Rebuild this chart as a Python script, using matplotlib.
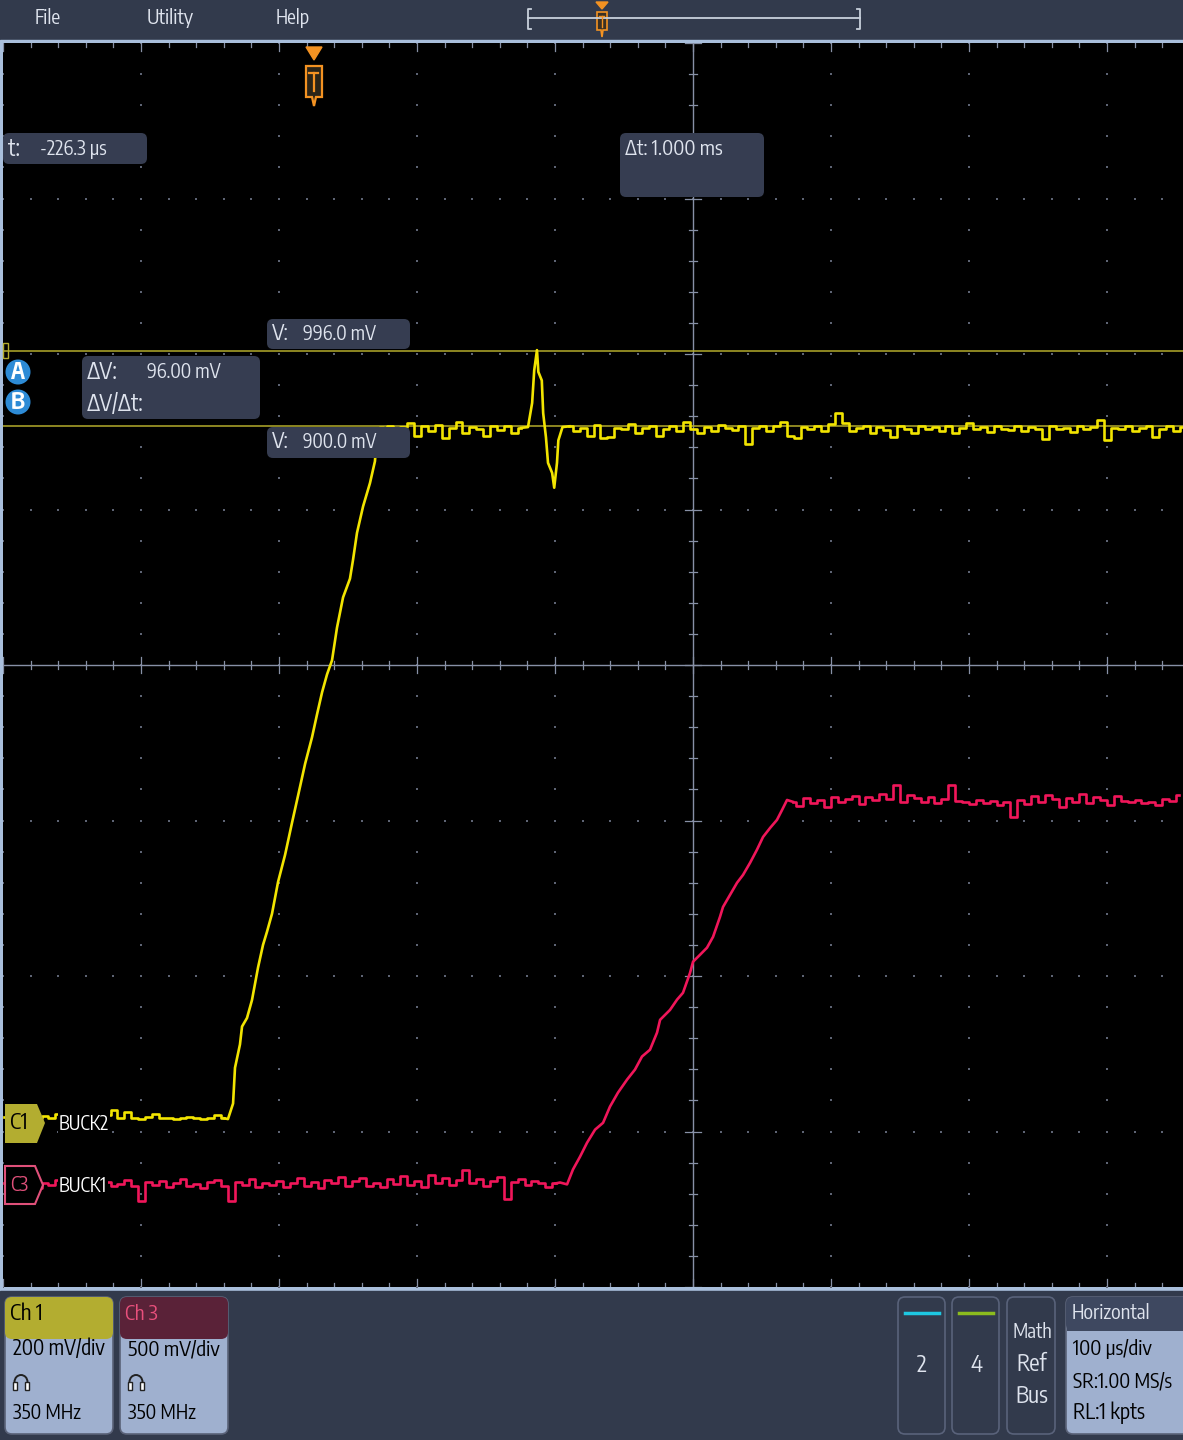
import numpy as np
import matplotlib.pyplot as plt
from matplotlib.patches import FancyBboxPatch, Polygon, Circle, Rectangle, Arc
from matplotlib import font_manager as fm

# ---------------- data (read from the scope screen) ----------------
# time in us relative to trigger, voltages in mV
ch1_scale, ch1_pos = 200.0, -2.96     # mV/div, position in div
ch3_scale, ch3_pos = 500.0, -3.34

ch1_base_t = np.arange(-225, -64, 5)
ch1_base_mv = [11, 12, 10, 13, 11, 9, 12, 10, 14, 11, 10, 12, 9, 11, 10, 13, 20, 9, 17, 10,
               8, 11, 15, 9, 10, 8, 9, 11, 9, 8, 10, 13, 9]
ch1_rise_t = [-62.4, -58.7, -57.3, -53.7, -52.2, -48.6, -45.0, -40.6, -37.0, -34.1, -30.5, -26.1,
              -21.0, -16.0, -11.6, -6.5, -1.5, 2.2, 5.8, 9.4, 13.0, 16.6, 21.0, 26.0, 28.2, 31.1,
              35.5, 40.5, 44.1, 45.6, 47.8]
ch1_rise_mv = [8, 28, 74, 104, 127, 138, 161, 203, 232, 249, 272, 313, 348, 389, 424, 465, 499,
               529, 557, 580, 598, 640, 679, 703, 727, 762, 796, 826, 854, 889, 897]
ch1_flat_a_t = np.arange(50, 151, 5)
ch1_flat_a_mv = [897, 899, 895, 898, 903, 886, 899, 893, 901, 884, 897, 905, 890, 898, 896, 887,
                 900, 894, 899, 891, 897]
ch1_spike_t = [155, 158, 159.5, 161.5, 162.5, 165, 166, 168, 169.5, 172.5, 174, 176, 177, 180]
ch1_spike_mv = [898, 929, 971, 997, 969, 958, 916, 885, 852, 839, 820, 852, 881, 898]
ch1_flat_b_t = np.arange(185, 631, 5)
ch1_flat_b_mv = [899, 893, 897, 886, 901, 884, 885, 897, 895, 902,
                 890, 897, 899, 886, 895, 900, 893, 904, 896, 891,
                 898, 893, 901, 897, 894, 899, 876, 897, 900, 893,
                 899, 905, 886, 884, 898, 896, 899, 893, 902, 916,
                 903, 893, 897, 899, 891, 898, 894, 885, 899, 896,
                 891, 900, 895, 898, 893, 899, 890, 897, 903, 895,
                 898, 892, 899, 896, 894, 900, 893, 898, 896, 883,
                 899, 895, 897, 892, 900, 896, 898, 907, 882, 897,
                 895, 899, 893, 897, 900, 885, 896, 899, 893, 898]

ch3_base_t = np.arange(-225, 176, 5)
ch3_base_mv = [4, -6, 10, -3, 8, -12, 5, -2, 14, -8,
               3, -10, 6, 12, -4, 9, -6, 2, 15, -5,
               -52, 8, -3, 12, -9, 4, 16, -6, 2, -11,
               7, 13, -4, -55, 9, -2, 18, -7, 5, -3,
               11, -8, 4, 19, -5, 8, -12, 14, 3, 25,
               -6, 10, 22, -4, 6, -9, 17, 2, 28, -3,
               12, -7, 30, 5, 20, -2, 15, 45, 4, 18,
               -5, 10, 24, -48, 8, 16, -2, 12, 5, -8,
               3]
ch3_rise_t = [178.2, 183.3, 187.6, 192.7, 197.8, 203.6, 209.4, 214.4, 220.2, 226.8, 232.5, 237.6,
              243.4, 248.5, 250.7, 257.9, 263.0, 267.3, 272.4, 274.6, 279.6, 284.7, 289.1, 294.1,
              296.3, 301.4, 306.5, 310.8, 315.9, 320.9, 325.3, 330.4, 335.4, 339.1, 342.7]
ch3_rise_mv = [6, 0, 48, 89, 134, 176, 198, 250, 295, 337, 369, 411, 433, 488, 529, 561, 594, 616,
               680, 716, 738, 761, 796, 860, 892, 931, 970, 995, 1034, 1076, 1117, 1146, 1172,
               1204, 1236]
ch3_flat_t = np.arange(347, 628, 5)
ch3_flat_mv = [1230, 1218, 1241, 1226, 1235, 1212, 1244, 1228, 1238, 1250,
               1222, 1247, 1236, 1256, 1240, 1284, 1231, 1252, 1243, 1229,
               1246, 1225, 1238, 1284, 1234, 1228, 1222, 1236, 1226, 1232,
               1220, 1229, 1182, 1235, 1224, 1248, 1230, 1252, 1238, 1213,
               1242, 1231, 1254, 1226, 1245, 1236, 1220, 1249, 1234, 1228,
               1236, 1225, 1231, 1219, 1240, 1232, 1252]

cursor_a_mv, cursor_b_mv = 996.0, 900.0
t_left, t_right = -225.4, 629.6       # visible time window
t_center, t_div = 274.6, 100.0

# ---------------- colours / fonts ----------------
YEL = '#f2e400'
RED = '#f0165a'
PANEL = '#323a4c'
BORDER = '#a9bfdc'
BOX = '#363d51'
TXT = '#dfe4ee'
BADGE = '#9fb0cf'
ORANGE = '#f39222'
GRID = '#5e6474'
AXLINE = '#8790a6'

names = {f.name for f in fm.fontManager.ttflist}
prefs = ['Encode Sans Condensed', 'PT Sans Narrow', 'Fira Sans Extra Condensed', 'Asap Condensed',
         'Roboto Condensed', 'Liberation Sans Narrow', 'Roboto']
FAMILY = next((p for p in prefs if p in names), 'DejaVu Sans')
FONT = dict(family=[FAMILY, 'DejaVu Sans'])

fig = plt.figure(figsize=(11.83, 14.4), dpi=100)
fig.patch.set_facecolor(PANEL)
renderer = fig.canvas.get_renderer()

# background UI layer in pixel coordinates
ui = fig.add_axes([0, 0, 1, 1], zorder=0)
ui.set_xlim(0, 1183)
ui.set_ylim(1440, 0)
ui.axis('off')
ui.add_patch(Rectangle((0, 0), 1183, 40, color=PANEL))
ui.add_patch(Rectangle((0, 40), 1183, 1251, color=BORDER))
ui.add_patch(Rectangle((0, 1291), 1183, 149, color=PANEL))

# ---------------- waveform area ----------------
W, H = 1183.0, 1440.0
ax = fig.add_axes([3 / W, (H - 1287) / H, 1180 / W, 1244 / H], zorder=1)
ax.set_facecolor('black')
ax.set_xlim(t_left, t_right)
ax.set_ylim(-4, 4)
ax.set_xticks([])
ax.set_yticks([])
for s in ax.spines.values():
    s.set_visible(False)

# graticule dots
x_major = t_center + t_div * np.arange(-5, 6)
x_minor = t_center + 20 * np.arange(-25, 26)
y_major = np.arange(-4, 5)
y_minor = np.round(np.arange(-4, 4.01, 0.2), 2)
for xm in x_major:
    if xm != t_center:
        ax.scatter(np.full(len(y_minor), xm), y_minor, s=2.5, marker='s', color=GRID, lw=0)
for ym in y_major[1:-1]:
    if ym != 0:
        ax.scatter(x_minor, np.full(len(x_minor), ym), s=2.5, marker='s', color=GRID, lw=0)

# center cross with ticks
ax.axvline(t_center, color=AXLINE, lw=1.0)
ax.axhline(0, color=AXLINE, lw=1.0)
px_t = (t_right - t_left) / 1180.0
px_v = 8.0 / 1244.0
for i, xm in enumerate(x_minor):
    L = 8 if i % 5 == 0 else 4
    ax.plot([xm, xm], [-L * px_v, L * px_v], color=AXLINE, lw=0.9)
    ax.plot([xm, xm], [4, 4 - L * px_v], color=AXLINE, lw=0.9)
    ax.plot([xm, xm], [-4, -4 + L * px_v], color=AXLINE, lw=0.9)
for ym in y_minor:
    L = 8 if np.isclose(ym, round(ym)) else 4
    ax.plot([t_center - L * px_t, t_center + L * px_t], [ym, ym], color=AXLINE, lw=0.9)

# cursors
for mv in (cursor_a_mv, cursor_b_mv):
    ax.axhline(mv / ch1_scale + ch1_pos, color='#b3ab2c', lw=1.1)


def to_div(mv, scale, pos):
    return np.asarray(mv, dtype=float) / scale + pos


LW = 1.9
# Ch3 (red) trace
ax.plot(ch3_base_t, to_div(ch3_base_mv, ch3_scale, ch3_pos), color=RED, lw=LW,
        drawstyle='steps-mid')
ax.plot(np.r_[ch3_base_t[-1], ch3_rise_t, ch3_flat_t[0]],
        to_div(np.r_[ch3_base_mv[-1], ch3_rise_mv, ch3_flat_mv[0]], ch3_scale, ch3_pos),
        color=RED, lw=LW)
ax.plot(ch3_flat_t, to_div(ch3_flat_mv, ch3_scale, ch3_pos), color=RED, lw=LW,
        drawstyle='steps-mid')

# Ch1 (yellow) trace
ax.plot(ch1_base_t, to_div(ch1_base_mv, ch1_scale, ch1_pos), color=YEL, lw=LW,
        drawstyle='steps-mid')
ax.plot(np.r_[ch1_base_t[-1], ch1_rise_t, ch1_flat_a_t[0]],
        to_div(np.r_[ch1_base_mv[-1], ch1_rise_mv, ch1_flat_a_mv[0]], ch1_scale, ch1_pos),
        color=YEL, lw=LW)
ax.plot(ch1_flat_a_t, to_div(ch1_flat_a_mv, ch1_scale, ch1_pos), color=YEL, lw=LW,
        drawstyle='steps-mid')
ax.plot(np.r_[ch1_flat_a_t[-1], ch1_spike_t, ch1_flat_b_t[0]],
        to_div(np.r_[ch1_flat_a_mv[-1], ch1_spike_mv, ch1_flat_b_mv[0]], ch1_scale, ch1_pos),
        color=YEL, lw=LW)
ax.plot(ch1_flat_b_t, to_div(ch1_flat_b_mv, ch1_scale, ch1_pos), color=YEL, lw=LW,
        drawstyle='steps-mid')

# ---------------- overlay layer (pixel coordinates) ----------------
ov = fig.add_axes([0, 0, 1, 1], zorder=2)
ov.set_xlim(0, 1183)
ov.set_ylim(1440, 0)
ov.axis('off')
ov.patch.set_alpha(0)


def rbox(x0, y0, x1, y1, fc, ec='none', r=6, lw=1.2):
    ov.add_patch(FancyBboxPatch((x0 + r, y0 + r), x1 - x0 - 2 * r, y1 - y0 - 2 * r,
                                boxstyle=f'round,pad={r},rounding_size={r}',
                                fc=fc, ec=ec, lw=lw))


def txt(x, y, s, width, size=16.5, color=TXT, ha='left', **kw):
    # width: pixel width of the string on the reference screen
    t = ov.text(x, y, s, fontsize=size, color=color, ha=ha, va='center', **FONT, **kw)
    w = t.get_window_extent(renderer).width
    if w > width:
        t.set_fontsize(size * width / w)
    return t


# menu bar
txt(35, 18, 'File', 26, 17.5)
txt(147, 18, 'Utility', 47, 17.5)
txt(276, 18, 'Help', 34, 17.5)
ov.plot([528, 860], [18, 18], color='#c8d0dc', lw=1.3)
ov.plot([531, 528, 528, 531], [9, 9, 29, 29], color='#c8d0dc', lw=1.3)
ov.plot([857, 860, 860, 857], [9, 9, 29, 29], color='#c8d0dc', lw=1.3)
ov.add_patch(Polygon([(596, 2), (608, 2), (602, 9)], color=ORANGE))
ov.add_patch(Polygon([(597, 12), (607, 12), (607, 30), (603, 30), (602, 37), (601, 30), (597, 30)],
                     fc='#3a3024', ec=ORANGE, lw=1.2))
ov.plot([599.5, 604.5], [16, 16], color=ORANGE, lw=1.0)
ov.plot([602, 602], [16, 27], color=ORANGE, lw=1.0)

# trigger marker
ov.add_patch(Polygon([(306, 47), (322, 47), (314, 60)], color=ORANGE))
ov.add_patch(Polygon([(306, 66), (322, 66), (322, 97), (316, 97), (314, 106), (312, 97), (306, 97)],
                     fc='#2a2418', ec=ORANGE, lw=1.6))
ov.plot([309.5, 318.5], [73, 73], color=ORANGE, lw=1.6)
ov.plot([314, 314], [73, 91], color=ORANGE, lw=1.6)

# cursor readouts
rbox(3, 133, 147, 164, BOX)
txt(8, 149, 't:', 12)
txt(40, 149, '-226.3 µs', 67)
rbox(620, 133, 764, 197, BOX)
txt(625, 149, 'Δt: 1.000 ms', 98)
rbox(267, 319, 410, 349, BOX)
txt(272, 334, 'V:', 17)
txt(303, 334, '996.0 mV', 73)
rbox(267, 427, 410, 458, BOX)
txt(272, 442, 'V:', 17)
txt(303, 442, '900.0 mV', 74)
rbox(82, 356, 260, 419, BOX)
txt(87, 372, 'ΔV:', 31)
txt(147, 372, '96.00 mV', 74)
txt(87, 404, 'ΔV/Δt:', 57)
ov.add_patch(Rectangle((3, 343), 5, 15, fc='none', ec='#b3ab2c', lw=1.0))
for yc, lab in ((372, 'A'), (402, 'B')):
    ov.add_patch(Circle((18, yc), 12.5, fc='#2d8bd6', ec='none'))
    txt(18, yc, lab, 14, 18, 'white', ha='center', fontweight='bold')

# channel markers
ov.add_patch(Polygon([(5, 1104), (37, 1104), (45, 1123), (37, 1143), (5, 1143)], fc='#b3ad30'))
txt(10, 1123, 'C1', 18, 16, 'black')
txt(59, 1124, 'BUCK2', 50, 16.5, 'white', bbox=dict(fc='black', ec='none', pad=0.5))
ov.add_patch(Polygon([(5, 1166), (35, 1166), (43, 1185), (35, 1204), (5, 1204)],
                     fc='black', ec='#e0507a', lw=1.5))
txt(10, 1185, 'C3', 18, 16, '#e0507a')
txt(59, 1186, 'BUCK1', 48, 16.5, 'white', bbox=dict(fc='black', ec='none', pad=0.5))

# ---------------- bottom badges ----------------
for x0, head, hcol, tcol, scale in ((5, 'Ch 1', '#b3ad30', 'black', '200 mV/div'),
                                    (120, 'Ch 3', '#5a2238', '#e8507c', '500 mV/div')):
    rbox(x0, 1297, x0 + 108, 1434, BADGE, ec='#5a6278', r=7)
    ov.add_patch(FancyBboxPatch((x0 + 7, 1297 + 7), 94, 28, boxstyle='round,pad=7,rounding_size=7',
                                fc=hcol, ec='none'))
    ov.add_patch(Rectangle((x0 + 0.6, 1318), 106.8, 14, fc=hcol, ec='none'))
    txt(x0 + 5, 1314, head, 33, 16.5, tcol)
    txt(x0 + 8, 1349, scale, 92, 16.5, 'black')
    ov.add_patch(Arc((x0 + 16, 1382), 13, 14, theta1=180, theta2=360, color='#222222', lw=1.4))
    ov.add_patch(Rectangle((x0 + 8, 1382), 4, 8, fc='white', ec='#222222', lw=1))
    ov.add_patch(Rectangle((x0 + 20, 1382), 4, 8, fc='white', ec='#222222', lw=1))
    txt(x0 + 8, 1413, '350 MHz', 68, 16.5, 'black')

for x0, lcol, lab in ((898, '#1ec8e2', '2'), (952, '#8cbc1e', '4')):
    rbox(x0, 1297, x0 + 47, 1434, PANEL, ec='#59627a', r=7)
    ov.plot([x0 + 7, x0 + 41], [1313, 1313], color=lcol, lw=2.5)
    txt(x0 + 24, 1365, lab, 12, 16.5, TXT, ha='center')
rbox(1007, 1297, 1055, 1434, PANEL, ec='#59627a', r=7)
for yy, lab in ((1332, 'Math'), (1364, 'Ref'), (1396, 'Bus')):
    txt(1032, yy, lab, 40, 16.5, TXT, ha='center')

rbox(1066, 1297, 1195, 1434, BADGE, ec='#5a6278', r=7)
ov.add_patch(FancyBboxPatch((1073, 1304), 115, 20, boxstyle='round,pad=7,rounding_size=7',
                            fc='#3e4860', ec='none'))
ov.add_patch(Rectangle((1066.6, 1318), 128, 13, fc='#3e4860', ec='none'))
txt(1072, 1313, 'Horizontal', 79, 16.5, TXT)
txt(1073, 1349, '100 µs/div', 79, 16.5, 'black')
txt(1073, 1381, 'SR:1.00 MS/s', 99, 16.5, 'black')
txt(1073, 1413, 'RL:1 kpts', 72, 16.5, 'black')

fig.savefig('out.png', dpi=100, facecolor=fig.get_facecolor())
